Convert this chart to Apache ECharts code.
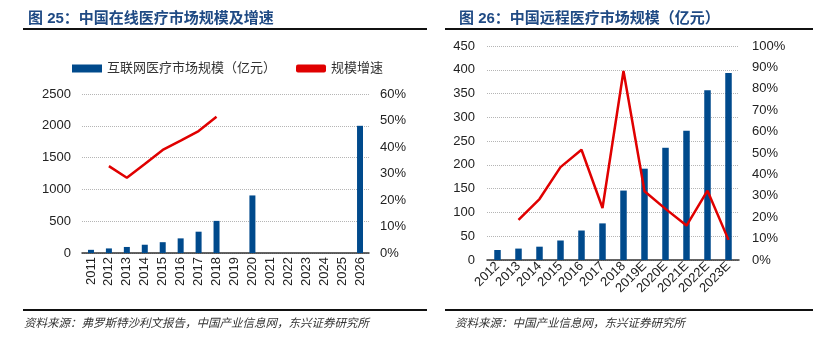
<!DOCTYPE html>
<html><head><meta charset="utf-8">
<script src="https://cdn.jsdelivr.net/npm/echarts@6/dist/echarts.min.js"></script>
<style>html,body{margin:0;padding:0;background:#fff}#c{width:831px;height:349px}</style>
</head><body><div id="c"></div>
<script>
// Left chart data
const leftCats = ['2011','2012','2013','2014','2015','2016','2017','2018','2019','2020','2021','2022','2023','2024','2025','2026'];
const leftBars = [50, 72, 95, 130, 170, 230, 335, 505, null, 905, null, null, null, null, null, 2000];
const leftGrowth = [null, 32.8, 28.4, 33.6, 38.9, 42.4, 46.0, 51.4, null, null, null, null, null, null, null, null];
// Right chart data
const rightCats = ['2012','2013','2014','2015','2016','2017','2018','2019E','2020E','2021E','2022E','2023E'];
const rightBars = [21, 24, 28, 41, 62, 77, 146, 192, 236, 272, 357, 393];
const rightGrowth = [null, 18.7, 28.5, 43.4, 51.5, 24.3, 88.3, 32.1, 23.9, 16.1, 32.4, 9.4];

const BLUE = '#004a8c', RED = '#e00000', TITLE = '#1f4a84';
const F = 'Arial, "Liberation Sans", "Noto Sans CJK SC", sans-serif';
const chart = echarts.init(document.getElementById('c'));
const gridLine = {show: true, lineStyle: {type: 'dotted', color: '#b5b5b5', width: 1}};
const lab = {color: '#222', fontSize: 13, fontFamily: F};
const plain = v => String(v);
chart.setOption({
  animation: false,
  textStyle: {fontFamily: F},
  title: [
    {text: '图 25：中国在线医疗市场规模及增速', left: 23, top: 6, textStyle: {fontSize: 15, fontWeight: 'bold', color: TITLE, fontFamily: F}},
    {text: '图 26：中国远程医疗市场规模（亿元）', left: 454, top: 6, textStyle: {fontSize: 15, fontWeight: 'bold', color: TITLE, fontFamily: F}}
  ],
  legend: {
    left: 67, top: 57, itemWidth: 30, itemHeight: 8, itemGap: 20,
    textStyle: {fontSize: 13, color: '#333', fontFamily: F},
    data: [
      {name: '互联网医疗市场规模（亿元）', icon: 'rect'},
      {name: '规模增速', icon: 'roundRect', itemStyle: {color: RED}}
    ]
  },
  graphic: [
    {type: 'line', shape: {x1: 23, y1: 29, x2: 427, y2: 29}, style: {stroke: '#111', lineWidth: 2}},
    {type: 'line', shape: {x1: 445, y1: 29, x2: 813, y2: 29}, style: {stroke: '#111', lineWidth: 2}},
    {type: 'line', shape: {x1: 23, y1: 310, x2: 427, y2: 310}, style: {stroke: '#111', lineWidth: 2}},
    {type: 'line', shape: {x1: 445, y1: 310, x2: 813, y2: 310}, style: {stroke: '#111', lineWidth: 2}},
    {type: 'text', left: 24, top: 317, style: {text: '资料来源：弗罗斯特沙利文报告，中国产业信息网，东兴证券研究所', fill: '#333', font: 'italic 11.5px "Noto Sans CJK SC"'}},
    {type: 'text', left: 455, top: 317, style: {text: '资料来源：中国产业信息网，东兴证券研究所', fill: '#333', font: 'italic 11.5px "Noto Sans CJK SC"'}}
  ],
  grid: [
    {left: 82, top: 94, width: 287, height: 159},
    {left: 487, top: 46, width: 252, height: 214}
  ],
  xAxis: [
    {type: 'category', gridIndex: 0, data: leftCats, axisTick: {show: false},
     axisLine: {lineStyle: {color: '#333', width: 1.5}},
     axisLabel: Object.assign({rotate: 90, margin: 4, interval: 0}, lab)},
    {type: 'category', gridIndex: 1, data: rightCats, axisTick: {show: false},
     axisLine: {lineStyle: {color: '#333', width: 1.5}},
     axisLabel: Object.assign({rotate: 45, margin: 4, interval: 0}, lab)}
  ],
  yAxis: [
    {type: 'value', gridIndex: 0, min: 0, max: 2500, interval: 500, splitLine: gridLine,
     axisLine: {show: false}, axisTick: {show: false}, axisLabel: Object.assign({margin: 11, formatter: plain}, lab)},
    {type: 'value', gridIndex: 0, min: 0, max: 60, interval: 10, position: 'right', splitLine: {show: false},
     axisLine: {show: false}, axisTick: {show: false}, axisLabel: Object.assign({margin: 11, formatter: '{value}%'}, lab)},
    {type: 'value', gridIndex: 1, min: 0, max: 450, interval: 50, splitLine: gridLine,
     axisLine: {show: false}, axisTick: {show: false}, axisLabel: Object.assign({margin: 12, formatter: plain}, lab)},
    {type: 'value', gridIndex: 1, min: 0, max: 100, interval: 10, position: 'right', splitLine: {show: false},
     axisLine: {show: false}, axisTick: {show: false}, axisLabel: Object.assign({margin: 13, formatter: '{value}%'}, lab)}
  ],
  series: [
    {name: '互联网医疗市场规模（亿元）', type: 'bar', xAxisIndex: 0, yAxisIndex: 0, data: leftBars, barWidth: 6, itemStyle: {color: BLUE}},
    {name: '规模增速', type: 'line', xAxisIndex: 0, yAxisIndex: 1, data: leftGrowth, symbol: 'none', lineStyle: {color: RED, width: 2.5}, itemStyle: {color: RED}},
    {name: 'r_bar', type: 'bar', xAxisIndex: 1, yAxisIndex: 2, data: rightBars, barWidth: 6.5, itemStyle: {color: BLUE}},
    {name: 'r_line', type: 'line', xAxisIndex: 1, yAxisIndex: 3, data: rightGrowth, symbol: 'none', lineStyle: {color: RED, width: 2.5}, itemStyle: {color: RED}}
  ]
});
</script></body></html>
